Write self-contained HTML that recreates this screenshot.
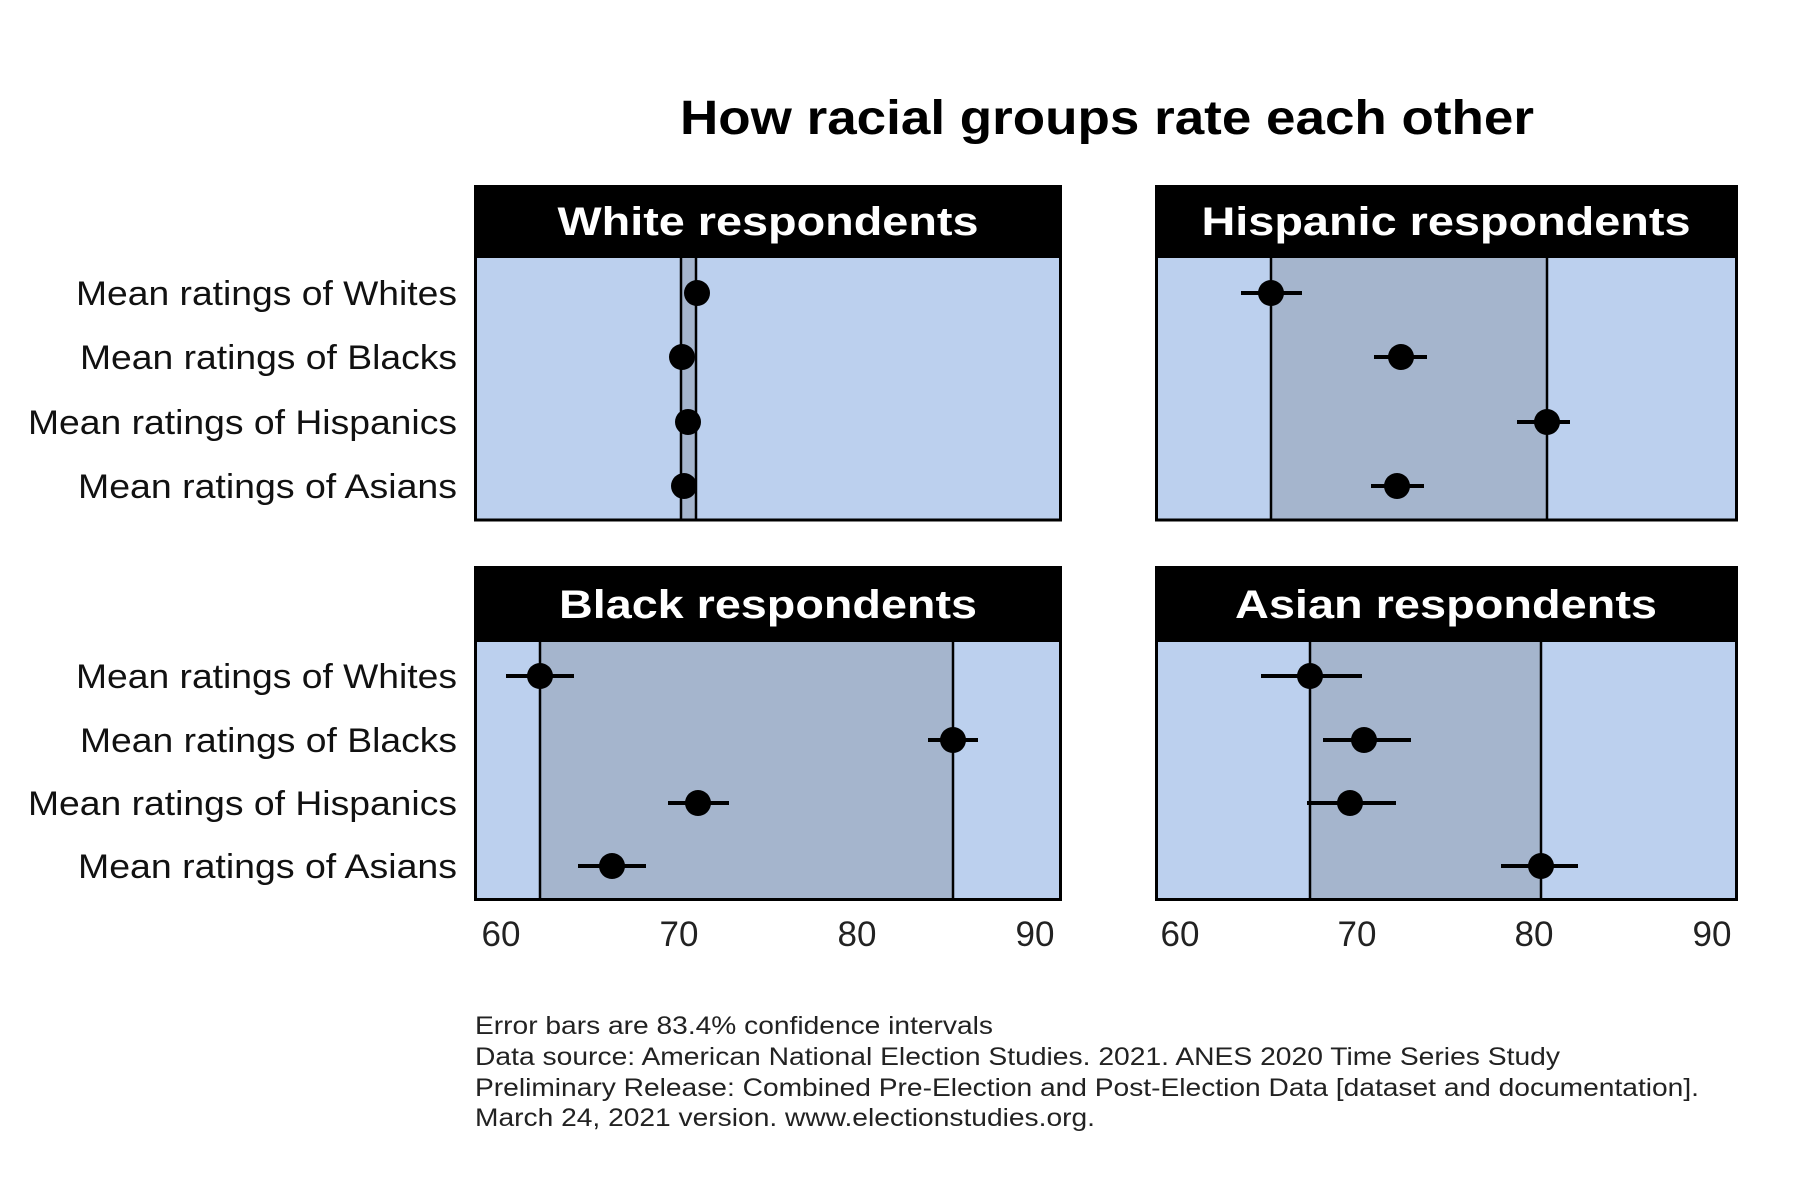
<!DOCTYPE html>
<html><head><meta charset="utf-8"><style>html,body{margin:0;padding:0;background:#fff}svg{display:block}</style></head>
<body>
<svg width="1800" height="1191" viewBox="0 0 1800 1191" xmlns="http://www.w3.org/2000/svg" font-family="Liberation Sans, Arial, sans-serif">
<rect width="1800" height="1191" fill="#fff"/>
<text x="1107" y="134" font-size="48" font-weight="bold" text-anchor="middle" textLength="854" lengthAdjust="spacingAndGlyphs">How racial groups rate each other</text>

<!-- White panel -->
<g>
<rect x="475.5" y="258" width="585" height="262" fill="#bcd0ee"/>
<rect x="681" y="258" width="15" height="262" fill="#a5b5cd"/>
<line x1="681" y1="258" x2="681" y2="520" stroke="#000" stroke-width="2.5"/>
<line x1="696" y1="258" x2="696" y2="520" stroke="#000" stroke-width="2.5"/>
<rect x="475.5" y="186.5" width="585" height="333.5" fill="none" stroke="#000" stroke-width="3"/>
<rect x="474" y="185" width="588" height="73" fill="#000"/>
<text x="768" y="235" font-size="40" font-weight="bold" fill="#fff" text-anchor="middle" textLength="421" lengthAdjust="spacingAndGlyphs">White respondents</text>
<circle cx="697" cy="293" r="13"/>
<circle cx="682" cy="357" r="13"/>
<circle cx="688" cy="422" r="13"/>
<circle cx="684" cy="486" r="13"/>
</g>

<!-- Hispanic panel -->
<g>
<rect x="1156.5" y="258" width="580" height="262" fill="#bcd0ee"/>
<rect x="1271" y="258" width="276" height="262" fill="#a5b5cd"/>
<line x1="1271" y1="258" x2="1271" y2="520" stroke="#000" stroke-width="2.5"/>
<line x1="1547" y1="258" x2="1547" y2="520" stroke="#000" stroke-width="2.5"/>
<rect x="1156.5" y="186.5" width="580" height="333.5" fill="none" stroke="#000" stroke-width="3"/>
<rect x="1155" y="185" width="583" height="73" fill="#000"/>
<text x="1446" y="235" font-size="40" font-weight="bold" fill="#fff" text-anchor="middle" textLength="489" lengthAdjust="spacingAndGlyphs">Hispanic respondents</text>
<g stroke="#000" stroke-width="4">
<line x1="1241" y1="293" x2="1302" y2="293"/>
<line x1="1374" y1="357" x2="1427" y2="357"/>
<line x1="1517" y1="422" x2="1570" y2="422"/>
<line x1="1371" y1="486" x2="1424" y2="486"/>
</g>
<circle cx="1271" cy="293" r="13"/>
<circle cx="1401" cy="357" r="13"/>
<circle cx="1547" cy="422" r="13"/>
<circle cx="1397" cy="486" r="13"/>
</g>

<!-- Black panel -->
<g>
<rect x="475.5" y="642" width="585" height="257.5" fill="#bcd0ee"/>
<rect x="540" y="642" width="413" height="258" fill="#a5b5cd"/>
<line x1="540" y1="642" x2="540" y2="900" stroke="#000" stroke-width="2.5"/>
<line x1="953" y1="642" x2="953" y2="900" stroke="#000" stroke-width="2.5"/>
<rect x="475.5" y="567.5" width="585" height="332" fill="none" stroke="#000" stroke-width="3"/>
<rect x="474" y="566" width="588" height="76" fill="#000"/>
<text x="768" y="618" font-size="40" font-weight="bold" fill="#fff" text-anchor="middle" textLength="418" lengthAdjust="spacingAndGlyphs">Black respondents</text>
<g stroke="#000" stroke-width="4">
<line x1="506" y1="676" x2="574" y2="676"/>
<line x1="928" y1="740" x2="978" y2="740"/>
<line x1="668" y1="803" x2="729" y2="803"/>
<line x1="578" y1="866" x2="646" y2="866"/>
</g>
<circle cx="540" cy="676" r="13"/>
<circle cx="953" cy="740" r="13"/>
<circle cx="698" cy="803" r="13"/>
<circle cx="612" cy="866" r="13"/>
</g>

<!-- Asian panel -->
<g>
<rect x="1156.5" y="642" width="580" height="257.5" fill="#bcd0ee"/>
<rect x="1310" y="642" width="231" height="258" fill="#a5b5cd"/>
<line x1="1310" y1="642" x2="1310" y2="900" stroke="#000" stroke-width="2.5"/>
<line x1="1541" y1="642" x2="1541" y2="900" stroke="#000" stroke-width="2.5"/>
<rect x="1156.5" y="567.5" width="580" height="332" fill="none" stroke="#000" stroke-width="3"/>
<rect x="1155" y="566" width="583" height="76" fill="#000"/>
<text x="1446" y="618" font-size="40" font-weight="bold" fill="#fff" text-anchor="middle" textLength="422" lengthAdjust="spacingAndGlyphs">Asian respondents</text>
<g stroke="#000" stroke-width="4">
<line x1="1261" y1="676" x2="1362" y2="676"/>
<line x1="1323" y1="740" x2="1411" y2="740"/>
<line x1="1307" y1="803" x2="1396" y2="803"/>
<line x1="1501" y1="866" x2="1578" y2="866"/>
</g>
<circle cx="1310" cy="676" r="13"/>
<circle cx="1364" cy="740" r="13"/>
<circle cx="1350" cy="803" r="13"/>
<circle cx="1541" cy="866" r="13"/>
</g>

<!-- Row labels -->
<g font-size="34" fill="#111" text-anchor="end">
<text x="457" y="305" textLength="381" lengthAdjust="spacingAndGlyphs">Mean ratings of Whites</text>
<text x="457" y="369" textLength="377" lengthAdjust="spacingAndGlyphs">Mean ratings of Blacks</text>
<text x="457" y="434" textLength="429" lengthAdjust="spacingAndGlyphs">Mean ratings of Hispanics</text>
<text x="457" y="498" textLength="379" lengthAdjust="spacingAndGlyphs">Mean ratings of Asians</text>
<text x="457" y="688" textLength="381" lengthAdjust="spacingAndGlyphs">Mean ratings of Whites</text>
<text x="457" y="752" textLength="377" lengthAdjust="spacingAndGlyphs">Mean ratings of Blacks</text>
<text x="457" y="815" textLength="429" lengthAdjust="spacingAndGlyphs">Mean ratings of Hispanics</text>
<text x="457" y="878" textLength="379" lengthAdjust="spacingAndGlyphs">Mean ratings of Asians</text>
</g>

<!-- Tick labels -->
<g font-size="35" fill="#222" text-anchor="middle">
<text x="501" y="946">60</text><text x="679" y="946">70</text><text x="857" y="946">80</text><text x="1035" y="946">90</text>
<text x="1180" y="946">60</text><text x="1357" y="946">70</text><text x="1534" y="946">80</text><text x="1712" y="946">90</text>
</g>

<!-- Footnotes -->
<g font-size="25" fill="#222">
<text x="475" y="1034" textLength="518" lengthAdjust="spacingAndGlyphs">Error bars are 83.4% confidence intervals</text>
<text x="475" y="1065" textLength="1085" lengthAdjust="spacingAndGlyphs">Data source: American National Election Studies. 2021. ANES 2020 Time Series Study</text>
<text x="475" y="1096" textLength="1224" lengthAdjust="spacingAndGlyphs">Preliminary Release: Combined Pre-Election and Post-Election Data [dataset and documentation].</text>
<text x="475" y="1126" textLength="620" lengthAdjust="spacingAndGlyphs">March 24, 2021 version. www.electionstudies.org.</text>
</g>
</svg>
</body></html>
